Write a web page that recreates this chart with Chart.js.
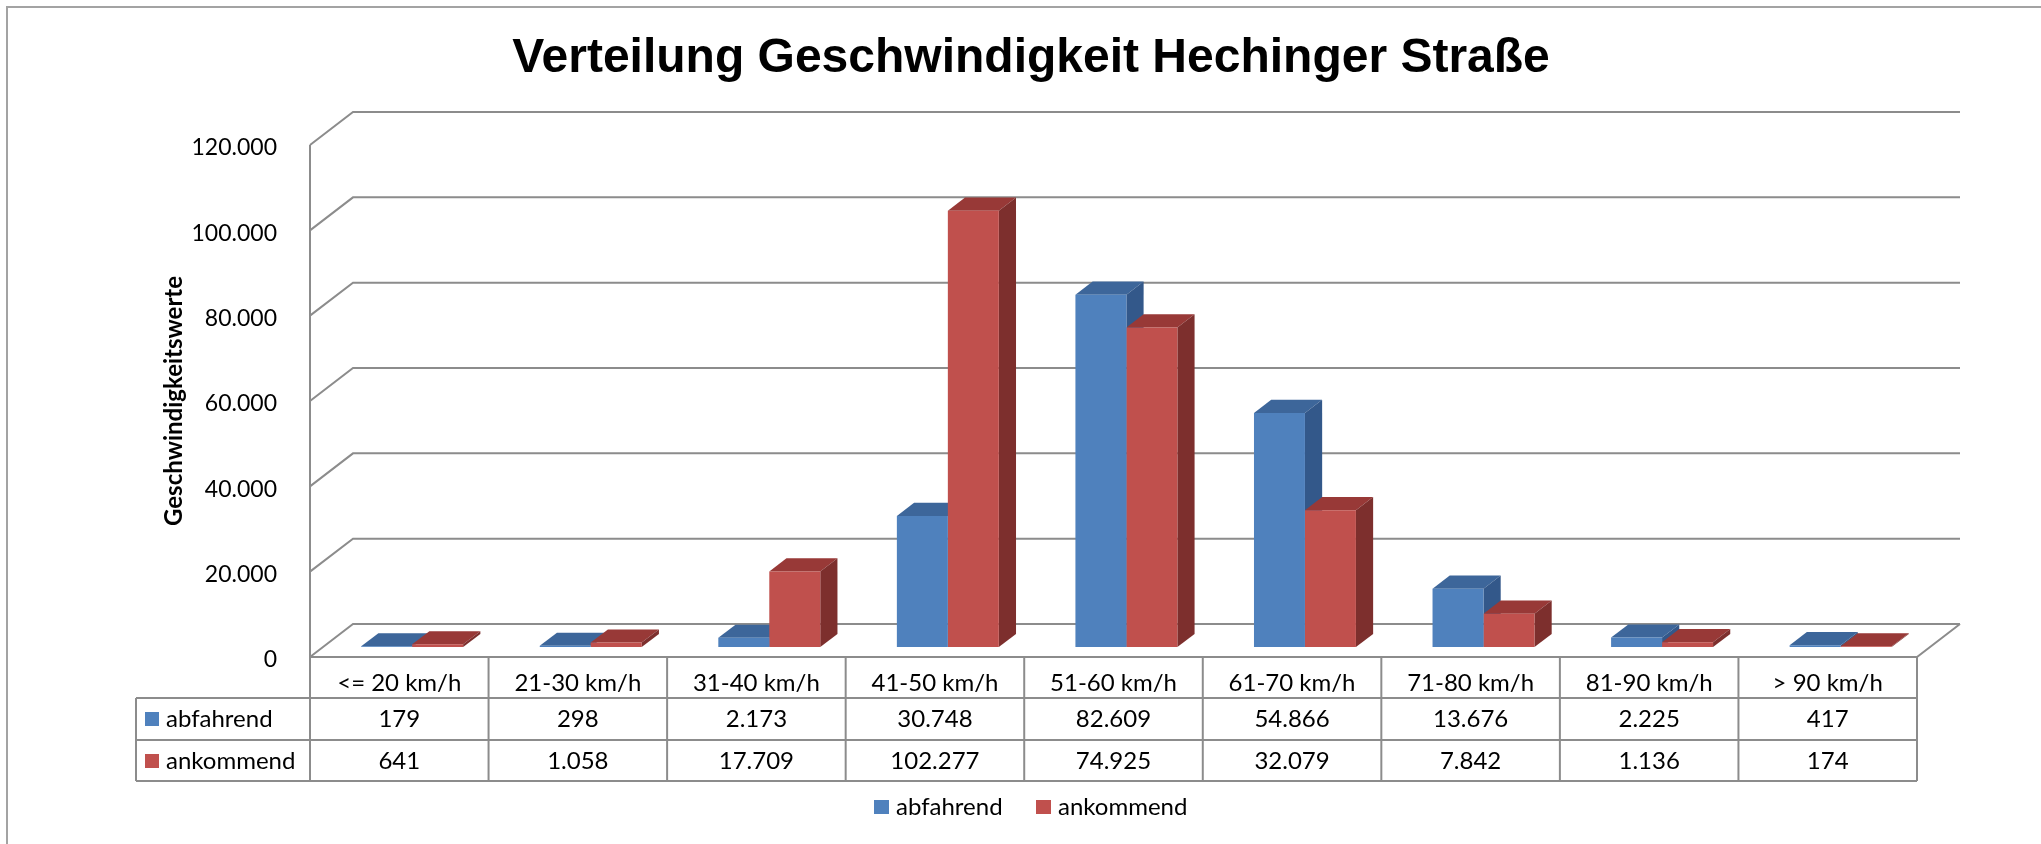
<!DOCTYPE html>
<html lang="de">
<head>
<meta charset="utf-8">
<title>Verteilung Geschwindigkeit Hechinger Straße</title>
<script src="https://cdn.jsdelivr.net/npm/chart.js@4.4.1/dist/chart.umd.min.js"></script>
<style>
  html, body { margin: 0; padding: 0; background: #fff; }
  #wrap { position: relative; width: 2041px; height: 844px; }
</style>
</head>
<body>
<div id="wrap"><canvas id="speedChart"></canvas></div>
<script>
const categories = ['<= 20 km/h', '21-30 km/h', '31-40 km/h', '41-50 km/h', '51-60 km/h',
                    '61-70 km/h', '71-80 km/h', '81-90 km/h', '> 90 km/h'];
const abfahrend = [179, 298, 2173, 30748, 82609, 54866, 13676, 2225, 417];
const ankommend = [641, 1058, 17709, 102277, 74925, 32079, 7842, 1136, 174];
const seriesNames = ['abfahrend', 'ankommend'];
const yTicks = [0, 20000, 40000, 60000, 80000, 100000, 120000];

const frontCols = ['#4F81BD', '#C0504D'];
const topCols = ['#3D669A', '#983937'];
const sideCols = ['#33588A', '#7D2F2D'];
const lineCol = '#8c8c8c';

// depth of the floor, and where the bars sit in it
const DX = 43, DY = -33;
const BAR_OFF = 0.3, BAR_DEPTH = 0.4;

const fmt = n => String(n).replace(/\B(?=(\d{3})+(?!\d))/g, '.');

function poly(ctx, pts) {
  ctx.beginPath();
  ctx.moveTo(pts[0][0], pts[0][1]);
  for (let k = 1; k < pts.length; k++) ctx.lineTo(pts[k][0], pts[k][1]);
  ctx.closePath();
  ctx.fill();
}

function line(ctx, x1, y1, x2, y2) {
  ctx.beginPath();
  ctx.moveTo(x1, y1);
  ctx.lineTo(x2, y2);
  ctx.stroke();
}

const threeD = {
  id: 'threeD',
  beforeDatasetsDraw(chart) {
    const { ctx, chartArea: a, scales: { y } } = chart;
    const y0 = y.getPixelForValue(0);
    const tableBottom = y0 + 124;

    ctx.save();
    ctx.strokeStyle = '#a3a3a3';
    ctx.lineWidth = 2;
    ctx.strokeRect(7, 7, chart.width + 20, chart.height + 20);

    // back wall with the gridlines
    ctx.strokeStyle = lineCol;
    ctx.lineWidth = 2;
    y.ticks.forEach(t => {
      const py = y.getPixelForValue(t.value);
      ctx.beginPath();
      ctx.moveTo(a.left, py);
      ctx.lineTo(a.left + DX, py + DY);
      ctx.lineTo(a.right + DX, py + DY);
      ctx.stroke();
    });
    // floor and front wall
    ctx.beginPath();
    ctx.moveTo(a.left, y0);
    ctx.lineTo(a.right, y0);
    ctx.lineTo(a.right + DX, y0 + DY);
    ctx.stroke();
    line(ctx, a.left, y.getPixelForValue(yTicks[yTicks.length - 1]), a.left, tableBottom);
    ctx.restore();

    // top and side faces; the fronts are drawn by chart.js under the same shift
    ctx.save();
    ctx.translate(DX * BAR_OFF, DY * BAR_OFF);
    const bx = DX * BAR_DEPTH, by = DY * BAR_DEPTH;
    categories.forEach((c, i) => {
      chart.data.datasets.forEach((ds, d) => {
        const bar = chart.getDatasetMeta(d).data[i];
        const p = bar.getProps(['x', 'y', 'base', 'width'], true);
        const L = p.x - p.width / 2, R = p.x + p.width / 2;
        ctx.fillStyle = topCols[d];
        poly(ctx, [[L, p.y], [R, p.y], [R + bx, p.y + by], [L + bx, p.y + by]]);
        ctx.fillStyle = sideCols[d];
        poly(ctx, [[R, p.y], [R + bx, p.y + by], [R + bx, p.base + by], [R, p.base]]);
      });
    });
  },
  afterDatasetsDraw(chart) {
    const { ctx, chartArea: a, scales: { x, y } } = chart;
    ctx.restore();

    const y0 = y.getPixelForValue(0);
    const rows = [y0, y0 + 41, y0 + 83, y0 + 124];
    const tableLeft = 136;
    const colW = (a.right - a.left) / categories.length;

    ctx.save();
    ctx.strokeStyle = lineCol;
    ctx.lineWidth = 2;
    for (let r = 1; r < rows.length; r++) line(ctx, tableLeft, rows[r], a.right, rows[r]);
    line(ctx, tableLeft, rows[1], tableLeft, rows[3]);
    for (let k = 1; k <= categories.length; k++) {
      line(ctx, a.left + k * colW, rows[0], a.left + k * colW, rows[3]);
    }

    ctx.fillStyle = '#000';
    ctx.font = '24px Lato';
    ctx.textAlign = 'center';
    ctx.textBaseline = 'middle';
    const series = [abfahrend, ankommend];
    categories.forEach((c, i) => {
      const cx = x.getPixelForValue(i);
      ctx.fillText(c, cx, y0 + 26);
      ctx.fillText(fmt(series[0][i]), cx, y0 + 62);
      ctx.fillText(fmt(series[1][i]), cx, y0 + 104);
    });
    ctx.textAlign = 'left';
    seriesNames.forEach((n, d) => {
      const cy = y0 + 62 + d * 42;
      ctx.fillStyle = frontCols[d];
      ctx.fillRect(145, cy - 7, 14, 14);
      ctx.fillStyle = '#000';
      ctx.fillText(n, 166, cy);
    });

    // legend
    const legX = [874, 1036];
    seriesNames.forEach((n, d) => {
      ctx.fillStyle = frontCols[d];
      ctx.fillRect(legX[d], 800, 15, 14);
      ctx.fillStyle = '#000';
      ctx.fillText(n, legX[d] + 22, 807);
    });

    // title
    ctx.font = 'bold 48px "Liberation Sans", Arial, sans-serif';
    ctx.textAlign = 'center';
    ctx.textBaseline = 'alphabetic';
    ctx.fillText('Verteilung Geschwindigkeit Hechinger Straße', 1031, 72);
    ctx.restore();
  }
};

new Chart(document.getElementById('speedChart'), {
  type: 'bar',
  data: {
    labels: categories,
    datasets: [
      { label: seriesNames[0], data: abfahrend, backgroundColor: frontCols[0], clip: false },
      { label: seriesNames[1], data: ankommend, backgroundColor: frontCols[1], clip: false }
    ]
  },
  options: {
    responsive: true,
    maintainAspectRatio: false,
    animation: false,
    layout: { padding: { top: 145, right: 124, bottom: 187, left: 0 } },
    datasets: { bar: { categoryPercentage: 0.571, barPercentage: 1.0 } },
    scales: {
      x: { display: false },
      y: {
        min: 0,
        max: 120000,
        afterBuildTicks: s => { s.ticks = yTicks.map(v => ({ value: v })); },
        afterFit: s => { s.width = 310; },
        grid: { display: false },
        border: { display: false },
        ticks: {
          autoSkip: false,
          padding: 25,
          labelOffset: 3,
          color: '#000',
          font: { family: 'Lato', size: 23 },
          callback: v => fmt(v)
        },
        title: {
          display: true,
          text: 'Geschwindigkeitswerte',
          color: '#000',
          font: { family: 'Lato', size: 24, weight: 'bold' },
          padding: { top: 160, bottom: 0 }
        }
      }
    },
    plugins: {
      legend: { display: false },
      title: { display: false },
      tooltip: { enabled: false }
    }
  },
  plugins: [threeD]
});
</script>
</body>
</html>
